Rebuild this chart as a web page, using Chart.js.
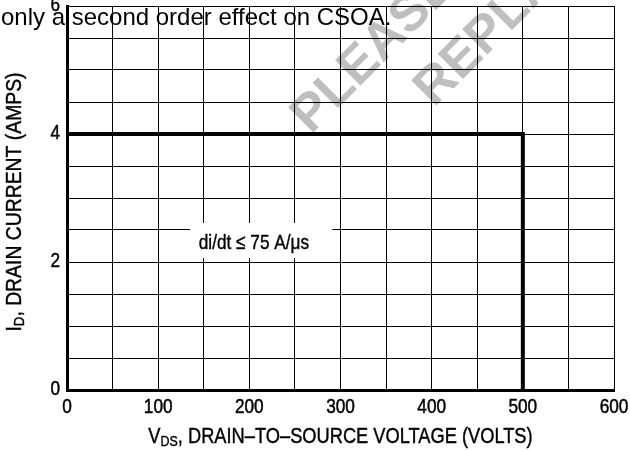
<!DOCTYPE html>
<html><head><meta charset="utf-8">
<script src="https://cdn.jsdelivr.net/npm/chart.js@4.4.1/dist/chart.umd.min.js"></script>
<style>html,body{margin:0;padding:0;background:#fff;}#wrap{width:630px;height:451px;}</style>
</head><body><div id="wrap"><canvas id="c" width="630" height="451"></canvas></div>
<script>
// ---- data ----
const vdsVolts = [0, 500, 500];
const drainAmps = [4, 4, 0];
const xTickValues = [0, 100, 200, 300, 400, 500, 600];
const yTickValues = [0, 2, 4, 6];
const xTitleParts = [['V', false], ['DS', true], [', DRAIN–TO–SOURCE VOLTAGE (VOLTS)', false]];
const yTitleParts = [['I', false], ['D', true], [', DRAIN CURRENT (AMPS)', false]];
const noteText = 'di/dt ≤ 75 A/μs';
const headerText = 'only a second order effect on CSOA.';
const watermarkWords = ['PLEASE', 'REPLACEMENT'];

const FONT = '"Liberation Sans", Arial, Helvetica, sans-serif';

// draws horizontally condensed text (emulates a narrow face)
function drawText(ctx, text, x, y, size, sx, align, baseline, heavy) {
  ctx.save();
  ctx.translate(x, y);
  ctx.scale(sx, 1);
  ctx.font = size + 'px ' + FONT;
  ctx.textAlign = align;
  ctx.textBaseline = baseline;
  ctx.fillStyle = '#000';
  ctx.fillText(text, 0, 0);
  if (heavy) {
    ctx.strokeStyle = '#000';
    ctx.lineWidth = heavy;
    ctx.strokeText(text, 0, 0);
  }
  ctx.restore();
}
function drawRich(ctx, parts, cx, cy, size, subSize, subDrop, sx, heavy) {
  let w = 0;
  for (const [t, sub] of parts) {
    ctx.font = (sub ? subSize : size) + 'px ' + FONT;
    w += ctx.measureText(t).width * sx;
  }
  let x = cx - w / 2;
  for (const [t, sub] of parts) {
    const s = sub ? subSize : size;
    drawText(ctx, t, x, cy + (sub ? subDrop : 0), s, sx, 'left', 'middle', heavy);
    ctx.font = s + 'px ' + FONT;
    x += ctx.measureText(t).width * sx;
  }
}

const drawPlugin = {
  id: 'drawExtras',
  beforeDraw(chart) {
    const ctx = chart.ctx;
    ctx.save();
    ctx.fillStyle = '#fff';
    ctx.fillRect(0, 0, chart.width, chart.height);
    ctx.fillStyle = '#bfbfbf';
    ctx.font = 'bold 52px ' + FONT;
    ctx.textAlign = 'left';
    ctx.textBaseline = 'alphabetic';
    const starts = [[311, 135], [434, 108]];
    watermarkWords.forEach((w, i) => {
      ctx.save();
      ctx.translate(starts[i][0], starts[i][1]);
      ctx.rotate(-Math.PI / 4);
      ctx.fillText(w, 0, 0);
      ctx.restore();
    });
    ctx.restore();
  },
  afterDraw(chart) {
    const ctx = chart.ctx;
    const xs = chart.scales.x, ys = chart.scales.y;
    const ca = chart.chartArea;
    ctx.save();
    // tick labels
    xTickValues.forEach(v => drawText(ctx, String(v), xs.getPixelForValue(v), 407, 21, 0.82, 'center', 'middle', 0.5));
    yTickValues.forEach(v => drawText(ctx, String(v), ca.left - 7, ys.getPixelForValue(v) - 1, 21, 0.82, 'right', 'middle', 0.5));
    // note box
    const bx0 = xs.getPixelForValue(135), bx1 = xs.getPixelForValue(291);
    const by0 = ys.getPixelForValue(2.61), by1 = ys.getPixelForValue(2.06);
    ctx.fillStyle = '#fff';
    ctx.fillRect(bx0, by0, bx1 - bx0, by1 - by0);
    drawText(ctx, noteText, xs.getPixelForValue(205), ys.getPixelForValue(2.30), 21, 0.82, 'center', 'middle', 0.4);
    // header
    drawText(ctx, headerText, 1, 25, 24, 1, 'left', 'alphabetic', 0);
    // x title
    drawRich(ctx, xTitleParts, (ca.left + ca.right) / 2, 437, 22, 15, 5, 0.83, 0.4);
    // y title
    ctx.save();
    ctx.translate(15, (ca.top + ca.bottom) / 2 + 4);
    ctx.rotate(-Math.PI / 2);
    drawRich(ctx, yTitleParts, 0, 0, 22, 15, 5, 0.88, 0.4);
    ctx.restore();
    ctx.restore();
  }
};

const ctx = document.getElementById('c').getContext('2d');
new Chart(ctx, {
  type: 'line',
  data: {
    datasets: [{
      data: vdsVolts.map((v, i) => ({ x: v, y: drainAmps[i] })),
      borderColor: '#000',
      borderWidth: 4,
      pointRadius: 0,
      fill: false,
      tension: 0,
      borderCapStyle: 'butt',
      borderJoinStyle: 'miter'
    }]
  },
  options: {
    responsive: false,
    animation: false,
    devicePixelRatio: 1,
    layout: { padding: { top: 6, right: 16, left: 0, bottom: 0 } },
    plugins: { legend: { display: false }, tooltip: { enabled: false } },
    scales: {
      x: {
        type: 'linear', min: 0, max: 600,
        afterFit(s) { s.height = 61; },
        ticks: { stepSize: 50, autoSkip: false, display: false },
        grid: { color: '#000', lineWidth: 1, drawTicks: false },
        border: { display: true, color: '#000', width: 3 }
      },
      y: {
        type: 'linear', min: 0, max: 6,
        afterFit(s) { s.width = 67; },
        ticks: { stepSize: 0.5, autoSkip: false, display: false },
        grid: { color: '#000', lineWidth: 1, drawTicks: false },
        border: { display: true, color: '#000', width: 3 }
      }
    }
  },
  plugins: [drawPlugin]
});
</script>
</body></html>
